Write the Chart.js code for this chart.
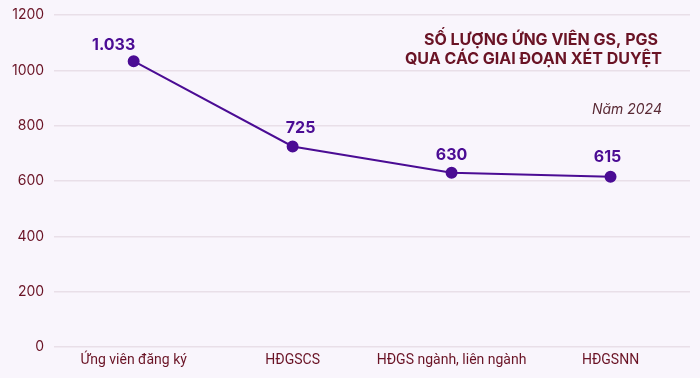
<!DOCTYPE html>
<html>
<head>
<meta charset="utf-8">
<script src="https://cdn.jsdelivr.net/npm/chart.js@4"></script>
<style>
html,body{margin:0;padding:0;background:#f9f5fc;}
#wrap{width:700px;height:378px;position:relative;}
</style>
</head>
<body>
<div id="wrap"><canvas id="c" width="700" height="378"></canvas></div>
<script>
const categories = ["Ứng viên đăng ký", "HĐGSCS", "HĐGS ngành, liên ngành", "HĐGSNN"];
const candidates = [1033, 725, 630, 615];
const valueLabels = ["1.033", "725", "630", "615"];
const yTicks = [0, 200, 400, 600, 800, 1000, 1200];
const titleLines = ["SỐ LƯỢNG ỨNG VIÊN GS, PGS", "QUA CÁC GIAI ĐOẠN XÉT DUYỆT"];
const subtitle = "Năm 2024";

const lineColor = "#4b0c94";
const maroon = "#6a1325";
// label placement style (pixel nudges), not data
const labelShiftX = [-20, 8, 0, -3];
const labelLift = [8, 10, 10, 12];

const overlay = {
  id: 'overlay',
  afterDatasetsDraw(chart) {
    const ctx = chart.ctx;
    const meta = chart.getDatasetMeta(0);
    ctx.save();
    ctx.fillStyle = lineColor;
    ctx.font = "bold 16px 'Inter', 'Open Sans', sans-serif";
    ctx.textAlign = 'center';
    ctx.textBaseline = 'bottom';
    meta.data.forEach((pt, i) => {
      ctx.fillText(valueLabels[i], pt.x + labelShiftX[i], pt.y - labelLift[i]);
    });
    ctx.fillStyle = maroon;
    ctx.textAlign = 'right';
    ctx.textBaseline = 'middle';
    ctx.font = "bold 16px 'Inter', 'Open Sans', sans-serif";
    ctx.fillText(titleLines[0], 658, 40);
    ctx.fillText(titleLines[1], 662, 59);
    ctx.font = "italic 14px 'Inter', 'Open Sans', sans-serif";
    ctx.fillStyle = "#5a2a35";
    ctx.fillText(subtitle, 662, 110);
    ctx.restore();
  }
};

new Chart(document.getElementById('c'), {
  type: 'line',
  data: {
    labels: categories,
    datasets: [{
      data: candidates,
      borderColor: lineColor,
      backgroundColor: lineColor,
      borderWidth: 2,
      pointRadius: 5,
      pointBackgroundColor: lineColor,
      tension: 0
    }]
  },
  options: {
    responsive: false,
    animation: false,
    layout: { padding: { top: 15, right: 10, left: 2, bottom: 3 } },
    plugins: { legend: { display: false }, tooltip: { enabled: false } },
    scales: {
      x: {
        offset: true,
        grid: { display: false, drawTicks: false },
        border: { display: false },
        afterFit(axis) { axis.height = 28; },
        ticks: { color: maroon, font: { family: "'Roboto', sans-serif", size: 14 }, maxRotation: 0, padding: 5 }
      },
      y: {
        min: 0, max: 1200,
        afterBuildTicks(axis) { axis.ticks = yTicks.map(v => ({ value: v })); },
        afterFit(axis) { axis.paddingTop = 0; axis.paddingBottom = 0; },
        grid: { color: "#e9dfe8", lineWidth: 1.5, drawTicks: false },
        border: { display: false },
        ticks: { color: maroon, font: { family: "'Inter', sans-serif", size: 14 }, padding: 10, callback: v => String(v) }
      }
    }
  },
  plugins: [overlay]
});
</script>
</body>
</html>
